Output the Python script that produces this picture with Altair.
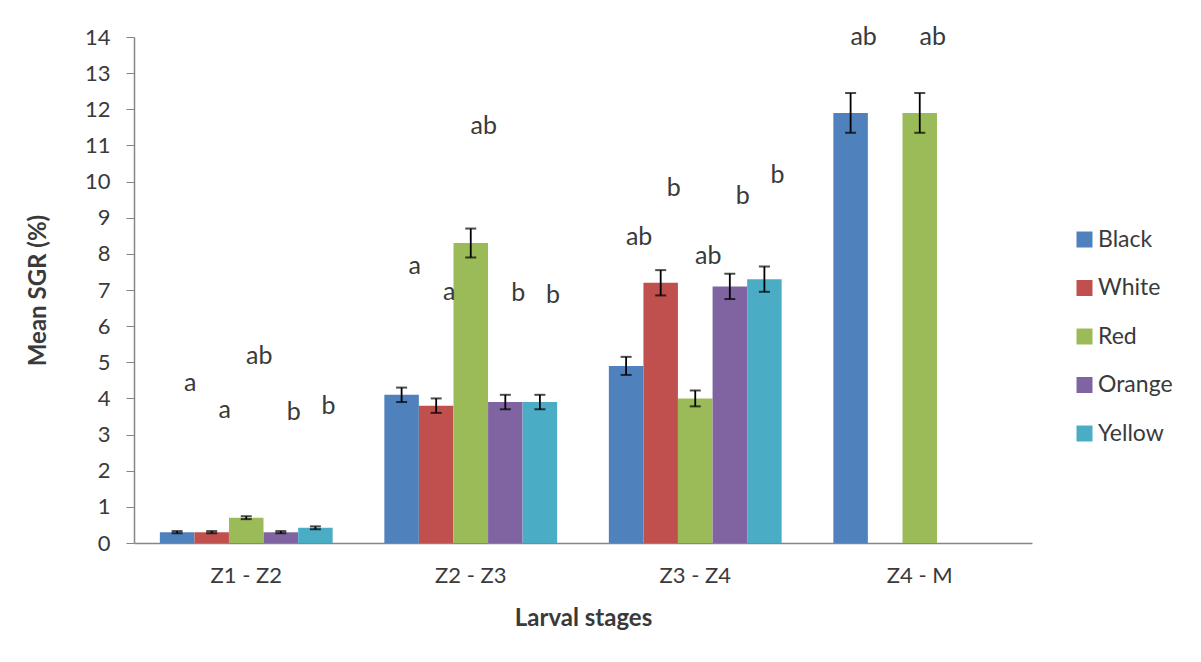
import altair as alt
import pandas as pd

stages = ["Z1 - Z2", "Z2 - Z3", "Z3 - Z4", "Z4 - M"]
series = ["Black", "White", "Red", "Orange", "Yellow"]
colors = ["#4F81BD", "#C0504D", "#9BBB59", "#8064A2", "#4BACC6"]

# mean SGR per stage (rows) and series (columns); None = no bar
means = [
    [0.30, 0.30, 0.70, 0.30, 0.42],
    [4.10, 3.80, 8.30, 3.90, 3.90],
    [4.90, 7.20, 4.00, 7.10, 7.30],
    [11.90, None, 11.90, None, None],
]
errors = [
    [0.03, 0.03, 0.04, 0.03, 0.04],
    [0.20, 0.20, 0.40, 0.20, 0.20],
    [0.25, 0.35, 0.22, 0.35, 0.35],
    [0.55, None, 0.55, None, None],
]
letters = [
    ["a", "a", "ab", "b", "b"],
    ["a", "a", "ab", "b", "b"],
    ["ab", "b", "ab", "b", "b"],
    ["ab", None, "ab", None, None],
]
letter_y = [
    [4.43, 3.68, 5.17, 3.62, 3.79],
    [7.66, 6.95, 11.54, 6.92, 6.86],
    [8.47, 9.82, 7.94, 9.60, 10.18],
    [14.0, None, 14.0, None, None],
]
y_ticks = list(range(0, 15))

rows = []
for i, st in enumerate(stages):
    for j, se in enumerate(series):
        if means[i][j] is None:
            continue
        rows.append({
            "stage": st, "series": se, "mean": means[i][j],
            "lo": means[i][j] - errors[i][j], "hi": means[i][j] + errors[i][j],
            "letter": letters[i][j], "ly": letter_y[i][j],
        })
df = pd.DataFrame(rows)

FONT = "Lato"
TXT = "#3a3a3a"

xaxis = alt.Axis(title="Larval stages", labelAngle=0, ticks=False, labelFlush=False,
                 labelAlign="center", labelPadding=22, titlePadding=20, labelFontSize=22)
xscale = alt.Scale(paddingInner=0.23, paddingOuter=0.115)
yaxis = alt.Axis(title="Mean SGR (%)", values=y_ticks, grid=False,
                 labelOverlap=False, tickSize=8, labelPadding=16,
                 titlePadding=34, labelFontSize=22)
yscale = alt.Scale(domain=[0, 14], nice=False)


def X():
    return alt.X("stage:N", sort=stages, scale=xscale, axis=xaxis)


def XO():
    return alt.XOffset("series:N", sort=series,
                       scale=alt.Scale(domain=series, paddingInner=0, paddingOuter=0))


def Y(field):
    return alt.Y(field, scale=yscale, axis=yaxis)


bars = alt.Chart(df).mark_bar(size=34.5).encode(
    x=X(), xOffset=XO(), y=Y("mean:Q"),
    color=alt.Color("series:N", sort=series,
                    scale=alt.Scale(domain=series, range=colors),
                    legend=alt.Legend(title=None, orient="none", legendX=939, legendY=191,
                                      symbolType="square", symbolSize=256,
                                      symbolStrokeWidth=0, labelFontSize=23,
                                      labelFont=FONT, labelColor=TXT, rowPadding=24.5,
                                      labelOffset=2)),
)

rules = alt.Chart(df).mark_rule(color="black", strokeWidth=1.8).encode(
    x=X(), xOffset=XO(), y=Y("lo:Q"), y2="hi:Q",
)
caps_hi = alt.Chart(df).mark_tick(color="black", thickness=2, size=11).encode(
    x=X(), xOffset=XO(), y=Y("hi:Q"),
)
caps_lo = alt.Chart(df).mark_tick(color="black", thickness=2, size=11).encode(
    x=X(), xOffset=XO(), y=Y("lo:Q"),
)
labels = alt.Chart(df).mark_text(fontSize=25, font=FONT, color=TXT, dx=13,
                                 baseline="middle").encode(
    x=X(), xOffset=XO(), y=Y("ly:Q"), text="letter:N",
)

chart = alt.layer(bars, rules, caps_hi, caps_lo, labels).properties(
    width=898, height=506,
    autosize=alt.AutoSizeParams(type="none"),
    padding={"left": 126, "top": 29, "right": 161, "bottom": 111},
).configure_view(stroke=None).configure_axis(
    labelFont=FONT, labelColor=TXT,
    titleFont=FONT, titleFontSize=24, titleColor=TXT, titleFontWeight="bold",
    domainColor="#868686", tickColor="#868686", domainWidth=1.5,
)

chart.save("out.html", embed_options={"renderer": "svg", "actions": False})
